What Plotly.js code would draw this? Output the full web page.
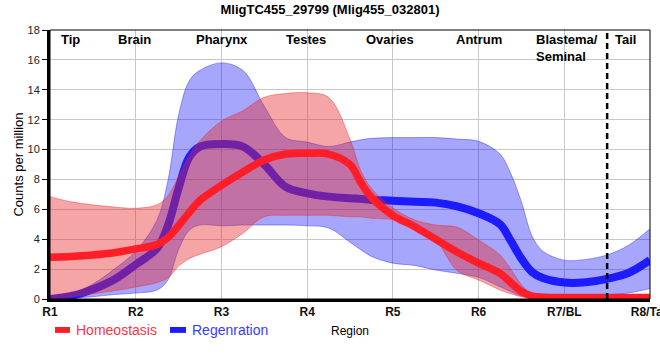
<!DOCTYPE html>
<html><head><meta charset="utf-8">
<script src="https://cdn.plot.ly/plotly-3.0.1.min.js"></script>
<style>html,body{margin:0;padding:0;background:#fff}#chart{width:660px;height:360px}</style>
</head><body><div id="chart"></div>
<script>
// Region positions along the body (1 = R1 ... 8 = R8)
const xPos = [1,1.25,1.5,1.75,2,2.25,2.375,2.5,2.625,2.75,3,3.25,3.5,3.75,4,4.25,4.5,4.625,4.75,5,5.25,5.5,5.75,6,6.25,6.375,6.5,6.625,6.75,7,7.25,7.5,7.75,8];
const tickVals = [1,2,3,4,5,6,7,8];
const tickLabels = ['R1','R2','R3','R4','R5','R6','R7/BL','R8/Tail'];

// Homeostasis
const homeoMean  = [2.8,2.85,2.95,3.1,3.35,3.65,4.1,4.9,5.8,6.6,7.6,8.5,9.3,9.7,9.75,9.7,9.0,7.8,6.8,5.6,4.85,4.0,3.15,2.4,1.72,1.1,0.5,0.2,0.12,0.1,0.1,0.1,0.1,0.1];
const homeoUpper = [6.85,6.5,6.3,6.15,6.07,6.3,6.9,8.2,9.6,10.6,11.9,12.6,13.5,13.75,13.8,13.5,10.7,8.6,7.4,6.1,5.3,4.95,4.8,3.95,2.95,2.0,0.95,0.3,0.12,0.1,0.1,0.1,0.1,0.1];
const homeoLower = [0.02,0.15,0.35,0.55,0.8,1.1,1.4,2.2,2.7,3.0,3.5,4.4,5.5,5.6,5.6,5.6,5.5,5.5,5.4,5.3,4.7,3.9,1.9,1.27,0.6,0.35,0.15,0.05,0,0,0,0,0,0];

// Regeneration
const regenMean  = [0.0,0.2,0.65,1.3,2.3,3.4,4.9,7.4,9.5,10.2,10.37,10.2,9.0,7.5,7.07,6.85,6.74,6.7,6.63,6.58,6.5,6.45,6.2,5.74,5.0,3.9,2.7,1.8,1.4,1.1,1.12,1.35,1.75,2.6];
const regenUpper = [0.12,0.35,1.0,2.0,3.2,5.3,7.9,12.3,14.6,15.3,15.8,15.3,12.9,10.8,10.5,10.2,10.5,10.65,10.75,10.8,10.8,10.8,10.7,10.55,9.7,8.4,6.5,4.2,3.2,2.6,2.65,2.95,3.6,4.7];
const regenLower = [-0.05,0.05,0.15,0.3,0.4,0.6,1.27,3.3,4.6,4.95,4.9,4.95,4.95,4.95,4.9,4.75,3.8,3.3,2.85,2.4,2.25,1.94,1.72,1.45,0.82,0.5,0.2,0.12,0.1,0.1,0.12,0.27,0.4,0.7];

const regionNames = ['Tip','Brain','Pharynx','Testes','Ovaries','Antrum','Blastema/<br>Seminal','Tail'];
const regionNameX = [1.105,1.77,2.68,3.73,4.66,5.71,6.65,7.57];
const borderX = 7.5;

const RED = 'rgb(255,30,40)', BLUE = 'rgb(28,28,255)';
const RED_BAND = 'rgba(230,40,40,0.42)', BLUE_BAND = 'rgba(0,0,245,0.35)';

function band(lower, upper, col) {
  return [
    {x: xPos, y: lower, mode: 'lines', line: {shape: 'spline', width: 1, color: col}, hoverinfo: 'skip', showlegend: false},
    {x: xPos, y: upper, mode: 'lines', fill: 'tonexty', fillcolor: col, line: {shape: 'spline', width: 1, color: col}, hoverinfo: 'skip', showlegend: false}
  ];
}

const traces = [
  ...band(regenLower, regenUpper, BLUE_BAND),
  {x: xPos, y: regenMean, mode: 'lines', name: 'Regenration', line: {shape: 'spline', width: 8, color: BLUE}, showlegend: false},
  ...band(homeoLower, homeoUpper, RED_BAND),
  {x: xPos, y: homeoMean, mode: 'lines', name: 'Homeostasis', line: {shape: 'spline', width: 7.5, color: RED}, showlegend: false}
];

const annotations = regionNames.map((t, i) => ({
  text: t, x: regionNameX[i], y: 18, xref: 'x', yref: 'y', xanchor: 'left', yanchor: 'top', align: 'left',
  showarrow: false, font: {family: 'Liberation Sans, Arial, sans-serif', size: 13, color: '#000', weight: 'bold'}
}));
annotations.push(
  {text: 'Homeostasis', x: 0.04, y: -0.115, xref: 'paper', yref: 'paper', xanchor: 'left', yanchor: 'middle', showarrow: false,
   font: {family: 'Liberation Sans, Arial, sans-serif', size: 14, color: '#ff3344'}},
  {text: 'Regenration', x: 0.2333, y: -0.115, xref: 'paper', yref: 'paper', xanchor: 'left', yanchor: 'middle', showarrow: false,
   font: {family: 'Liberation Sans, Arial, sans-serif', size: 14, color: '#3a3aff'}}
);

const shapes = [
  {type: 'rect', xref: 'paper', yref: 'paper', x0: 0, x1: 1, y0: 0, y1: 1, line: {color: '#000', width: 1}},
  {type: 'line', xref: 'x', yref: 'y', x0: borderX, x1: borderX, y0: 0, y1: 18, line: {color: '#000', width: 2.5, dash: '6px,4px'}},
  {type: 'rect', xref: 'paper', yref: 'paper', x0: 0.0083, x1: 0.0333, y0: -0.104, y1: -0.126, fillcolor: RED, line: {width: 0}},
  {type: 'rect', xref: 'paper', yref: 'paper', x0: 0.2, x1: 0.2267, y0: -0.104, y1: -0.126, fillcolor: BLUE, line: {width: 0}}
];

const layout = {
  width: 660, height: 360,
  margin: {l: 50, r: 10, t: 30, b: 61},
  paper_bgcolor: '#fff', plot_bgcolor: '#fff',
  font: {family: 'Liberation Sans, Arial, sans-serif', color: '#000'},
  title: {text: '<b>MligTC455_29799 (Mlig455_032801)</b>', font: {size: 13, color: '#000'}, x: 0.5, xref: 'container', y: 0.975, yref: 'container', yanchor: 'middle'},
  xaxis: {
    range: [1, 8], tickvals: tickVals, ticktext: tickLabels, showgrid: true, gridcolor: '#c8c8c8', gridwidth: 1,
    showline: true, linecolor: '#000', linewidth: 3, zeroline: false, ticks: '', ticklabeloverflow: 'allow',
    tickfont: {size: 12, color: '#111', weight: 'bold'},
    title: {text: 'Region', font: {size: 12, color: '#000'}, standoff: 9}
  },
  yaxis: {
    range: [0, 18], dtick: 2, showgrid: true, gridcolor: '#c8c8c8', gridwidth: 1,
    showline: true, linecolor: '#000', linewidth: 3, zeroline: false,
    ticks: 'outside', ticklen: 5, tickwidth: 1, tickcolor: '#000',
    tickfont: {size: 11, color: '#222'},
    title: {text: 'Counts per million', font: {size: 13, color: '#000'}, standoff: 1}
  },
  showlegend: false,
  annotations: annotations,
  shapes: shapes
};

Plotly.newPlot('chart', traces, layout, {displayModeBar: false, staticPlot: true});
</script>
</body></html>
